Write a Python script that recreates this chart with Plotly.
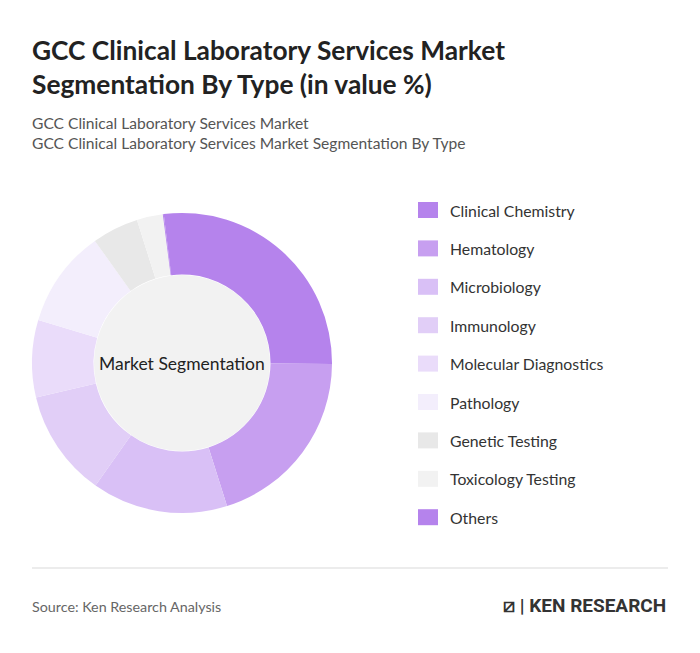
import plotly.graph_objects as go

categories = ["Clinical Chemistry","Hematology","Microbiology","Immunology","Molecular Diagnostics","Pathology","Genetic Testing","Toxicology Testing","Others"]
values = [27.0, 20.0, 14.6, 11.5, 8.3, 10.5, 5.0, 2.8, 0.1]
colors = ["#b583ec","#c79ff0","#d9c0f6","#e1cef7","#eadcfa","#f3eefc","#e8e8e8","#f2f2f2","#b583ec"]

W, H = 692, 645
O = 8  # page body margin offset
def px(x): return (x - O - 2) / W
def py(y): return 1 - (y - O) / H

fig = go.Figure()
fig.add_trace(go.Pie(labels=categories, values=values, marker=dict(colors=colors, line=dict(width=0)),
    hole=0.59, sort=False, direction="clockwise", rotation=-7, textinfo="none", showlegend=False,
    domain=dict(x=[px(34), px(334)], y=[py(513), py(213)])))

shapes = [dict(type="circle", xref="paper", yref="paper", x0=px(184-88), x1=px(184+88),
               y0=py(363+88), y1=py(363-88), fillcolor="#f2f2f2", line=dict(width=0), layer="below"),
          dict(type="line", xref="paper", yref="paper", x0=px(34), x1=px(670), y0=py(568), y1=py(568),
               line=dict(color="#d9d9d9", width=1))]
ann = [dict(text="Market Segmentation", x=px(184), y=py(363), xref="paper", yref="paper", showarrow=False,
            xanchor="center", yanchor="middle", font=dict(size=17.5, color="#222", family="Lato"))]
for i, (c, col) in enumerate(zip(categories, colors)):
    yc = 210 + i*38.4
    shapes.append(dict(type="rect", xref="paper", yref="paper", x0=px(420), x1=px(440),
                       y0=py(yc+8), y1=py(yc-8), fillcolor=col, line=dict(width=0)))
    ann.append(dict(text=c, x=px(450), y=py(yc), xref="paper", yref="paper", xanchor="left", yanchor="middle",
                    showarrow=False, font=dict(size=15.8, color="#333", family="Lato")))
ann += [
    dict(text="<b>GCC Clinical Laboratory Services Market<br>Segmentation By Type (in value %)</b>", x=px(32), y=py(32),
         xref="paper", yref="paper", xanchor="left", yanchor="top", align="left", showarrow=False,
         font=dict(size=26.3, color="#222", family="Lato")),
    dict(text="GCC Clinical Laboratory Services Market<br>GCC Clinical Laboratory Services Market Segmentation By Type",
         x=px(32), y=py(112), xref="paper", yref="paper", xanchor="left", yanchor="top", align="left", showarrow=False,
         font=dict(size=15.6, color="#555", family="Lato")),
    dict(text="Source: Ken Research Analysis", x=px(32), y=py(606), xref="paper", yref="paper", xanchor="left",
         yanchor="middle", showarrow=False, font=dict(size=14.3, color="#666", family="Lato")),
    dict(text="<b>⧄ | KEN RESEARCH</b>", x=px(670), y=py(605), xref="paper", yref="paper", xanchor="right",
         yanchor="middle", showarrow=False, font=dict(size=19, color="#333", family="Roboto")),
]
fig.update_layout(width=W, height=H, margin=dict(l=0, r=0, t=0, b=0), paper_bgcolor="white",
                  shapes=shapes, annotations=ann)
fig.write_html("out.html")
